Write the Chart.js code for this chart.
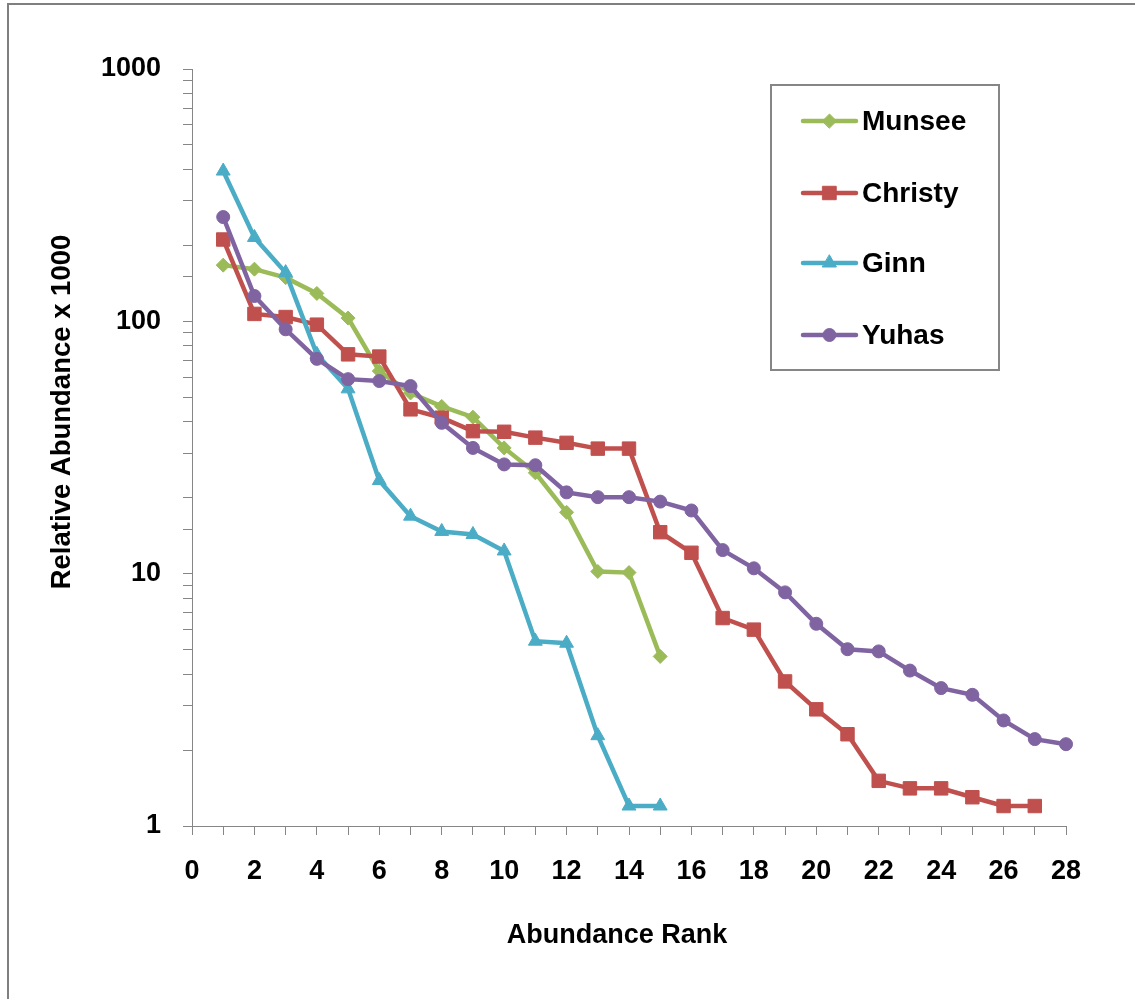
<!DOCTYPE html>
<html>
<head>
<meta charset="utf-8">
<title>Rank-abundance curves</title>
<script src="https://cdn.jsdelivr.net/npm/chart.js@4/dist/chart.umd.min.js"></script>
<style>
  html, body { margin: 0; padding: 0; background: #ffffff; }
  #wrap { width: 1135px; height: 999px; }
</style>
</head>
<body>
<div id="wrap"><canvas id="chart" width="1135" height="999"></canvas></div>
<script>
// Abundance rank (x) and relative abundance x 1000 (y, log scale) per site
const ranks = [1, 2, 3, 4, 5, 6, 7, 8, 9, 10, 11, 12, 13, 14, 15, 16, 17, 18, 19, 20, 21, 22, 23, 24, 25, 26, 27, 28];
const siteNames = ['Munsee', 'Christy', 'Ginn', 'Yuhas'];
const munsee = [167, 161, 149, 129, 103, 63.5, 52, 46, 41.7, 31.5, 25.1, 17.5, 10.2, 10.1, 4.7];
const christy = [211, 107, 104, 97, 74, 72.5, 44.8, 41.5, 36.7, 36.5, 34.6, 33.0, 31.3, 31.3, 14.6, 12.1, 6.67, 6.0, 3.74, 2.90, 2.31, 1.51, 1.41, 1.41, 1.30, 1.20, 1.20];
const ginn = [394, 215, 156, 74, 54, 23.4, 16.9, 14.7, 14.3, 12.3, 5.4, 5.3, 2.28, 1.2, 1.2];
const yuhas = [259, 126, 93, 71, 59, 58, 55.4, 39.6, 31.5, 27.1, 26.9, 21.0, 20.1, 20.1, 19.3, 17.8, 12.4, 10.5, 8.43, 6.33, 5.02, 4.92, 4.13, 3.52, 3.31, 2.62, 2.21, 2.11];
const yLabelValues = [1, 10, 100, 1000];
const xTitle = 'Abundance Rank';
const yTitle = 'Relative Abundance x 1000';

const FONT = 'Liberation Sans, Arial, sans-serif';
const AXIS_GREY = '#868686';

const seriesStyle = [
  { color: '#9BBB59', pointStyle: 'rectRot', radius: 7 },
  { color: '#C0504D', pointStyle: 'rect', radius: 9.5 },
  { color: '#4BACC6', pointStyle: 'triangle', radius: 8 },
  { color: '#8064A2', pointStyle: 'circle', radius: 6.5 }
];
const seriesValues = [munsee, christy, ginn, yuhas];

function toPoints(values) {
  return values.map((v, i) => ({ x: ranks[i], y: v }));
}

const datasets = siteNames.map((name, i) => ({
  label: name,
  data: toPoints(seriesValues[i]),
  borderColor: seriesStyle[i].color,
  backgroundColor: seriesStyle[i].color,
  pointBackgroundColor: seriesStyle[i].color,
  pointBorderColor: seriesStyle[i].color,
  pointStyle: seriesStyle[i].pointStyle,
  pointRadius: seriesStyle[i].radius,
  pointBorderWidth: 1,
  borderWidth: 4.5,
  tension: 0,
  fill: false,
  clip: false,
  order: siteNames.length - i
}));

// Page frame and white background
const framePlugin = {
  id: 'frame',
  beforeDraw(chart) {
    const ctx = chart.ctx;
    ctx.save();
    ctx.fillStyle = '#ffffff';
    ctx.fillRect(0, 0, chart.width, chart.height);
    ctx.strokeStyle = '#7f7f7f';
    ctx.lineWidth = 2;
    ctx.strokeRect(8, 4, chart.width + 50, chart.height + 50);
    ctx.restore();
  }
};

// Axis titles, placed by hand
const axisTitlePlugin = {
  id: 'axisTitles',
  afterDraw(chart) {
    const ctx = chart.ctx;
    ctx.save();
    ctx.fillStyle = '#000000';
    ctx.font = 'bold 27px ' + FONT;
    ctx.textAlign = 'center';
    ctx.textBaseline = 'middle';
    ctx.fillText(xTitle, 617, 936);
    ctx.translate(62, 412);
    ctx.rotate(-Math.PI / 2);
    ctx.font = 'bold 27.5px ' + FONT;
    ctx.fillText(yTitle, 0, 0);
    ctx.restore();
  }
};

// Boxed legend with a line-and-marker sample for each site
const boxLegendPlugin = {
  id: 'boxLegend',
  afterDraw(chart) {
    const ctx = chart.ctx;
    const box = { x: 771, y: 85, w: 228, h: 285 };
    const rowY = [121, 193, 263, 335];
    ctx.save();
    ctx.strokeStyle = AXIS_GREY;
    ctx.lineWidth = 2;
    ctx.strokeRect(box.x, box.y, box.w, box.h);
    chart.data.datasets.forEach((ds, i) => {
      const y = rowY[i];
      ctx.strokeStyle = ds.borderColor;
      ctx.lineWidth = 4.5;
      ctx.lineCap = 'round';
      ctx.beginPath();
      ctx.moveTo(803, y);
      ctx.lineTo(856, y);
      ctx.stroke();
      ctx.fillStyle = ds.pointBackgroundColor;
      ctx.strokeStyle = ds.pointBorderColor;
      ctx.lineWidth = 1;
      Chart.helpers.drawPoint(ctx, { pointStyle: ds.pointStyle, radius: ds.pointRadius, rotation: 0, borderWidth: 1 }, 829.5, y);
      ctx.fillStyle = '#000000';
      ctx.font = 'bold 28px ' + FONT;
      ctx.textAlign = 'left';
      ctx.textBaseline = 'middle';
      ctx.fillText(ds.label, 862, y + 1);
    });
    ctx.restore();
  }
};

new Chart(document.getElementById('chart'), {
  type: 'line',
  data: { datasets },
  plugins: [framePlugin, axisTitlePlugin, boxLegendPlugin],
  options: {
    responsive: false,
    animation: false,
    devicePixelRatio: 1,
    layout: { padding: { left: 0, right: 69, top: 69, bottom: 0 } },
    plugins: {
      legend: { display: false },
      tooltip: { enabled: false }
    },
    scales: {
      x: {
        type: 'linear',
        min: 0,
        max: 28,
        afterFit(scale) { scale.height = 173; },
        border: { display: true, color: AXIS_GREY, width: 1 },
        grid: { drawOnChartArea: false, drawTicks: true, tickLength: 9, color: AXIS_GREY },
        ticks: {
          stepSize: 1,
          autoSkip: false,
          maxRotation: 0,
          padding: 20,
          color: '#000000',
          font: { family: FONT, size: 27, weight: 'bold' },
          callback: (v) => (v % 2 === 0 ? String(v) : '')
        },
        title: { display: false }
      },
      y: {
        type: 'logarithmic',
        min: 1,
        max: 1000,
        afterFit(scale) { scale.width = 192; },
        border: { display: true, color: AXIS_GREY, width: 1 },
        grid: { drawOnChartArea: false, drawTicks: true, tickLength: 9, color: AXIS_GREY },
        ticks: {
          autoSkip: false,
          padding: 22,
          color: '#000000',
          font: { family: FONT, size: 27, weight: 'bold' },
          callback: (v) => (yLabelValues.includes(v) ? String(v) : '')
        },
        title: { display: false }
      }
    }
  }
});
</script>
</body>
</html>
